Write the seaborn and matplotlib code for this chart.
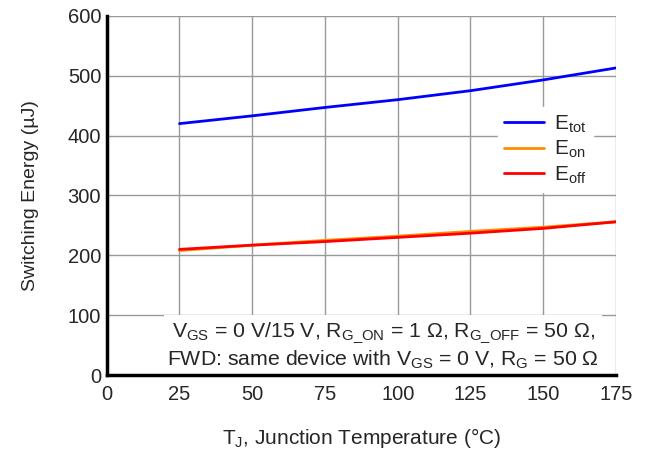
import pandas as pd
import seaborn as sns
import matplotlib as mpl
import matplotlib.pyplot as plt

mpl.use("Agg")

# switching energy vs junction temperature
tj = [25, 50, 75, 100, 125, 150, 175]
e_tot = [420, 433, 447, 460, 475, 493, 513]
e_on = [208, 217, 225, 232, 240, 247, 256]
e_off = [210, 217, 223, 230, 237, 245, 256]

series = ['E$_{\\mathrm{tot}}$', 'E$_{\\mathrm{on}}$', 'E$_{\\mathrm{off}}$']
colors = ['#0000ff', '#ff8c00', '#ff0000']

df = pd.DataFrame({'tj': tj * 3,
                   'energy': e_tot + e_on + e_off,
                   'curve': [series[0]] * 7 + [series[1]] * 7 + [series[2]] * 7})

sns.set_style("white")
plt.rcParams['font.family'] = ['Liberation Sans', 'DejaVu Sans']
plt.rcParams['mathtext.fontset'] = 'custom'
plt.rcParams['mathtext.rm'] = 'Liberation Sans'
plt.rcParams['mathtext.it'] = 'Liberation Sans'

fig = plt.figure(figsize=(6.47, 4.53), dpi=100)
ax = fig.add_axes([0.165, 0.172, 0.787, 0.793])

sns.lineplot(data=df, x='tj', y='energy', hue='curve', hue_order=series,
             palette=colors, linewidth=2, ax=ax)

ax.set_xlim(0, 175)
ax.set_ylim(0, 600)
ax.set_xticks(range(0, 176, 25))
ax.set_yticks(range(0, 601, 100))
ax.grid(True, color='#999999', linewidth=1)
ax.set_axisbelow(True)
for s in ['top', 'right']:
    ax.spines[s].set_visible(False)
for s in ['left', 'bottom']:
    ax.spines[s].set_linewidth(2.5)
    ax.spines[s].set_color('black')
    ax.spines[s].set_zorder(5)
ax.tick_params(length=0, labelsize=14.5, pad=4)
ax.tick_params(axis='x', pad=7)

ax.set_xlabel('T$_{\\mathrm{J}}$, Junction Temperature (°C)', fontsize=15, labelpad=16)
ax.set_ylabel('Switching Energy (µJ)', fontsize=14, labelpad=21)

leg = ax.legend(loc='upper right', bbox_to_anchor=(0.975, 0.775), frameon=True,
                fontsize=15, handlelength=1.9, handletextpad=0.5,
                labelspacing=0.2, borderpad=0.3, fancybox=False)
leg.get_frame().set_edgecolor('white')
leg.get_frame().set_facecolor('white')
leg.get_frame().set_alpha(1)

ax.text(95, 49,
        'V$_{\\mathrm{GS}}$ = 0 V/15 V, R$_{\\mathrm{G\\_ON}}$ = 1 Ω, '
        'R$_{\\mathrm{G\\_OFF}}$ = 50 Ω,\n'
        'FWD: same device with V$_{\\mathrm{GS}}$ = 0 V, R$_{\\mathrm{G}}$ = 50 Ω',
        ha='center', va='center', fontsize=15.3, linespacing=1.2,
        bbox=dict(facecolor='white', edgecolor='none', pad=2.0), zorder=4)

fig.savefig('out.png', dpi=100)
